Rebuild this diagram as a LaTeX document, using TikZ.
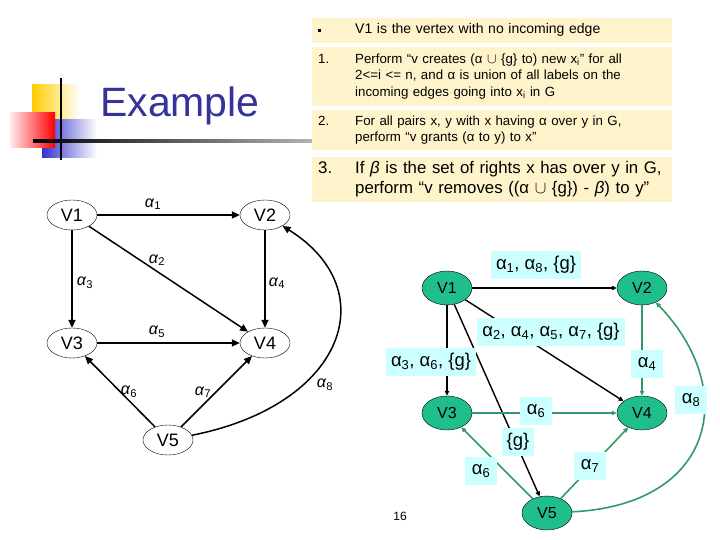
\documentclass[tikz,border=0pt]{standalone}
\usepackage{fontspec}
\setmainfont{Liberation Sans}
\usetikzlibrary{calc, positioning, arrows.meta, shapes.geometric}
\definecolor{TitleBlue}{RGB}{51,51,153}
\definecolor{NoteFill}{RGB}{255,243,204}
\definecolor{NodeGreen}{RGB}{32,190,140}
\definecolor{EdgeGreen}{RGB}{51,153,102}
\definecolor{LabelCyan}{RGB}{204,255,255}
\definecolor{SqYellow}{RGB}{255,204,0}
\definecolor{SqBlue}{RGB}{51,51,204}

\begin{document}
\begin{tikzpicture}[x=1pt, y=-1pt,
  font=\fontsize{13.3}{16.5}\selectfont,
  note/.style={fill=NoteFill, anchor=north west, text width=348pt,
    inner xsep=6pt, inner ysep=2pt, align=left},
  vtx/.style={ellipse, draw, thin, fill=white, minimum width=50pt,
    minimum height=30pt, inner sep=0pt, font=\fontsize{18}{18}\selectfont},
  gvtx/.style={ellipse, draw=black, fill=NodeGreen, minimum width=50pt,
    minimum height=34pt, inner sep=0pt, font=\fontsize{16}{16}\selectfont},
  lbl/.style={fill=LabelCyan, inner xsep=5pt, inner ysep=3pt, minimum height=28pt,
    minimum width=32pt, font=\fontsize{18.5}{18.5}\selectfont},
  alab/.style={font=\fontsize{16}{16}\selectfont},
  bedge/.style={draw, line width=1.5pt, -{Triangle[length=8pt,width=7pt]}},
  gedge/.style={draw=EdgeGreen, line width=1.6pt, -{Triangle[length=5pt,width=4.5pt]}},
  kedge/.style={draw, line width=1.4pt, -{Triangle[length=5pt,width=4.5pt]}}
]
\useasboundingbox (0,0) rectangle (720,540);

% title
\shade[left color=SqYellow, middle color=SqYellow!80, right color=white] (32,85) rectangle (80,120);
\shade[left color=SqBlue, middle color=SqBlue!85, right color=white] (42,120) rectangle (97,158);
\shade[left color=red!8, right color=red] (10,113) rectangle (55,148);
\draw[line width=1.5pt] (61,78) -- (61,160);
\shade[left color=black, right color=gray!60] (33,140) rectangle (312,142.5);
\node[font=\fontsize{41}{41}\selectfont, text=TitleBlue, anchor=base west, inner sep=0pt]
  (title) at (100,117) {Example};

% notes
\node[note, minimum height=25pt, font=\fontsize{14}{16.5}\selectfont] (n0) at (312,18)
  {\begin{tabular}{@{}p{37pt}@{}l@{}}\raisebox{2pt}{\rule{3pt}{3pt}} & V1 is the vertex with no incoming edge\end{tabular}};
\node[note, minimum height=59pt] (n1) at (312,47)
  {\begin{tabular}{@{}p{37pt}@{}l@{}}1. & Perform ``v creates (α $\cup$ \{g\} to) new x\textsubscript{i}'' for all\\
   & 2<=i <= n, and α is union of all labels on the\\
   & incoming edges going into x\textsubscript{i} in G\end{tabular}};
\node[note, minimum height=40pt] (n2) at (312,110)
  {\begin{tabular}{@{}p{37pt}@{}l@{}}2. & For all pairs x, y with x having α over y in G,\\
   & perform ``v grants (α to y) to x''\end{tabular}};
\node[note, minimum height=45pt, font=\fontsize{16.8}{20}\selectfont] (n3) at (312,157)
  {\begin{tabular}{@{}p{37pt}@{}l@{}}3. & If \textit{β} is the set of rights x has over y in G,\\
   & perform ``v removes ((α $\cup$ \{g\}) - \textit{β}) to y''\end{tabular}};

% left graph
\node[vtx] (v1) at (72,215) {V1};
\node[vtx] (v2) at (265,215) {V2};
\node[vtx] (v3) at (72,343) {V3};
\node[vtx] (v4) at (265,343) {V4};
\node[vtx] (v5) at (168,440) {V5};
\draw[bedge, line width=2.2pt] (v1) -- (v2);
\draw[bedge, line width=2.2pt] (v1) -- (v3);
\draw[bedge] (v1) -- (v4);
\draw[bedge] (v2) -- (v4);
\draw[bedge] (v3) -- (v4);
\draw[bedge] (v5) -- (v3);
\draw[bedge] (v5) -- (v4);
\draw[bedge] (v5) .. controls (345,405) and (385,290) .. (v2);
\node[alab] (a1) at (153,204) {\textit{α}\textsubscript{1}};
\node[alab] (a2) at (157,260) {\textit{α}\textsubscript{2}};
\node[alab] (a3) at (85,283) {\textit{α}\textsubscript{3}};
\node[alab] (a4) at (277,283) {\textit{α}\textsubscript{4}};
\node[alab] (a5) at (157,332) {\textit{α}\textsubscript{5}};
\node[alab] (a6) at (129,392) {\textit{α}\textsubscript{6}};
\node[alab] (a7) at (203,392) {\textit{α}\textsubscript{7}};
\node[alab] (a8) at (325,385) {\textit{α}\textsubscript{8}};

% right graph
\node[gvtx] (g1) at (447,288) {V1};
\node[gvtx] (g2) at (642,288) {V2};
\node[gvtx] (g3) at (447,413) {V3};
\node[gvtx] (g4) at (642,413) {V4};
\node[gvtx] (g5) at (547,513) {V5};
\draw[kedge] (g1) -- (g2);
\draw[kedge] (g1) -- (g3);
\draw[kedge] (g1) -- (g4);
\draw[kedge] (g1) -- (g5);
\draw[gedge] (g2) -- (g4);
\draw[gedge] (g3) -- (g4);
\draw[gedge] (g5) -- (g3);
\draw[gedge] (g5) -- (g4);
\draw[gedge] (g5) .. controls (715,505) and (740,390) .. (g2);
\node[lbl] (l12) at (536,265) {α\textsubscript{1}, α\textsubscript{8}, \{g\}};
\node[lbl] (l14) at (551,332) {α\textsubscript{2}, α\textsubscript{4}, α\textsubscript{5}, α\textsubscript{7}, \{g\}};
\node[lbl] (l13) at (431,362) {α\textsubscript{3}, α\textsubscript{6}, \{g\}};
\node[lbl] (l15) at (518,442) {\{g\}};
\node[lbl] (l24) at (647,364) {α\textsubscript{4}};
\node[lbl] (l34) at (536,411) {α\textsubscript{6}};
\node[lbl] (l53) at (481,471) {α\textsubscript{6}};
\node[lbl] (l54) at (590,466) {α\textsubscript{7}};
\node[lbl] (l52) at (691,400) {α\textsubscript{8}};
\node[font=\fontsize{12}{12}\selectfont] (pnum) at (400,516) {16};
\end{tikzpicture}
\end{document}
